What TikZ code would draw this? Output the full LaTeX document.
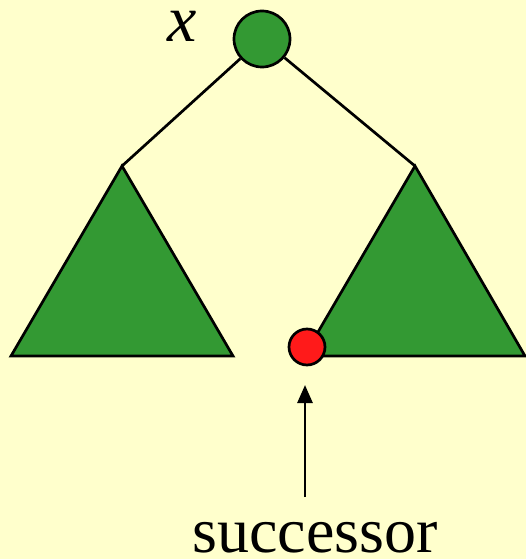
\documentclass[tikz,border=0pt]{standalone}
\usepackage{fontspec}
\setmainfont{Liberation Serif}
\usetikzlibrary{arrows.meta}
\definecolor{bg}{RGB}{255,255,204}
\definecolor{tgreen}{RGB}{51,153,51}
\definecolor{tred}{RGB}{255,26,26}
\tikzset{
  edge/.style={line width=2.7pt, draw=black},
  subtree/.style={line width=2.7pt, draw=black, fill=tgreen, line join=miter},
  vertex/.style={circle, draw=black, line width=2.7pt, inner sep=0pt},
  big/.style={font=\fontsize{64}{70}\selectfont, inner sep=0pt}
}
\begin{document}
\begin{tikzpicture}[x=1pt,y=-1pt]
  \fill[bg] (0,0) rectangle (526,559);
  \useasboundingbox (0,0) rectangle (526,559);
  % apexes
  \coordinate (la) at (122,166);
  \coordinate (ra) at (415,166);
  % subtrees
  \path[subtree] (la) -- (11,356) -- (233,356) -- cycle;
  \path[subtree] (ra) -- (304,356) -- (525,356) -- cycle;
  % root
  \node[vertex, fill=tgreen, minimum size=56pt] (root) at (262,39) {};
  \draw[edge] (root) -- (la);
  \draw[edge] (root) -- (ra);
  \node[big, anchor=base, font=\fontsize{66}{70}\selectfont\itshape] (xlab) at (182,42) {x};
  % successor
  \node[vertex, fill=tred, minimum size=36pt] (succ) at (307,347) {};
  \node[big, anchor=base] (stext) at (315,552) {successor};
  \coordinate (atail) at (305,497);
  \coordinate (ahead) at (305,385);
  \draw[edge, -{Triangle[length=18pt,width=15pt]}] (atail) -- (ahead);
\end{tikzpicture}
\end{document}
